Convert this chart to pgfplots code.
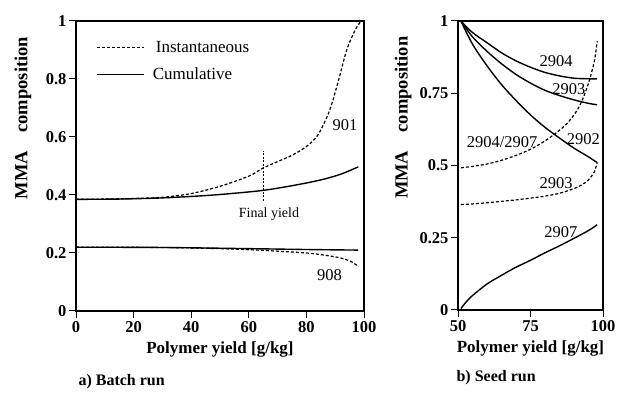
\documentclass[border=0pt]{standalone}
\usepackage{pgfplots}
\pgfplotsset{compat=1.18}
\usepackage{fontspec}
\setmainfont{Liberation Serif}
\tikzset{lab/.style={font=\fontsize{16.5}{16.5}\selectfont},
  ylab/.style={rotate=90, anchor=center, font=\fontsize{18.5}{18.5}\selectfont\bfseries}}
\begin{document}
\begin{tikzpicture}
\path[use as bounding box] (0pt,0pt) rectangle (618pt,398pt);
\pgfplotsset{
  myax/.style={
    scale only axis,
    axis line style={line width=1.1pt},
    tick align=outside,
    xtick pos=bottom, ytick pos=left,
    major tick length=7pt,
    tick style={line width=1pt,black},
    /pgf/number format/assume math mode=true,
    ticklabel style={font=\fontsize{16.5}{16.5}\selectfont\bfseries},
    yticklabel style={xshift=1pt},
    label style={font=\fontsize{17}{17}\selectfont\bfseries},
    xlabel={Polymer yield [g/kg]},
    xlabel style={yshift=-2pt},
    clip=false,
  },
  sol/.style={black, line width=1.4pt, no markers, smooth},
  das/.style={black, line width=1.2pt, no markers, smooth, dash pattern=on 3pt off 2pt},
}
% ---------- Panel a ----------
\begin{axis}[myax,
  at={(76pt,87pt)}, anchor=south west,
  width=288pt, height=290pt,
  xmin=0, xmax=100, ymin=0, ymax=1,
  xtick={0,20,40,60,80,100},
  ytick={0,0.2,0.4,0.6,0.8,1},
  yticklabels={0,0.2,0.4,0.6,0.8,1},
  legend style={draw=none, fill=none, at={(0.06,0.945)}, anchor=north west,
    font=\fontsize{17}{17}\selectfont, row sep=10pt,
    legend cell align=left},
  legend image code/.code={\draw[#1] (0pt,0pt) -- (47pt,0pt);},
]
\addplot[das] coordinates {(0,0.385) (10,0.386) (20,0.388) (30,0.392) (40,0.405) (50,0.43) (60,0.465) (65,0.493) (70,0.515) (75,0.537) (80,0.567) (84,0.607) (88,0.69) (91,0.79) (94,0.9) (97,0.97) (99,1.0)};
\addlegendentry{\hspace{9pt}Instantaneous}
\addplot[sol] coordinates {(0,0.385) (15,0.386) (30,0.39) (45,0.398) (55,0.406) (65,0.416) (75,0.432) (85,0.452) (92,0.472) (98,0.497)};
\addlegendentry{\hspace{6pt}Cumulative}
\addplot[sol, forget plot] coordinates {(0,0.22) (30,0.219) (60,0.215) (80,0.212) (98,0.21)};
\addplot[das, forget plot] coordinates {(0,0.22) (30,0.219) (50,0.215) (65,0.209) (80,0.2) (88,0.19) (93,0.18) (96,0.168) (98,0.153)};
\addplot[black, line width=1.2pt, dash pattern=on 2pt off 1.5pt, forget plot] coordinates {(65,0.38) (65,0.55)};
\node[font=\fontsize{14}{14}\selectfont, anchor=center] at (axis cs:67,0.334) {Final yield};
\node[lab] at (axis cs:93.4,0.64) {901};
\node[lab] at (axis cs:88,0.125) {908};
\node[ylab] at (axis description cs:-0.184,0.665) {MMA\hspace{1em}composition};
\end{axis}
% ---------- Panel b ----------
\begin{axis}[myax,
  at={(458pt,88pt)}, anchor=south west,
  width=145pt, height=289pt,
  xmin=50, xmax=100, ymin=0, ymax=1,
  xtick={50,75,100},
  ytick={0,0.25,0.5,0.75,1},
  yticklabels={0,0.25,0.5,0.75,1},
]
\addplot[sol] coordinates {(51,1.0) (55,0.96) (60,0.925) (65,0.89) (70,0.862) (75,0.84) (80,0.822) (85,0.81) (90,0.802) (95,0.8) (98,0.8)};
\addplot[sol] coordinates {(51,1.0) (55,0.945) (60,0.895) (65,0.852) (70,0.815) (75,0.785) (80,0.76) (85,0.742) (90,0.727) (95,0.715) (98,0.71)};
\addplot[sol] coordinates {(51,1.0) (55,0.92) (60,0.845) (65,0.78) (70,0.725) (75,0.675) (80,0.632) (85,0.595) (90,0.56) (95,0.53) (98,0.51)};
\addplot[das] coordinates {(51,0.492) (55,0.497) (60,0.505) (65,0.518) (70,0.535) (75,0.556) (80,0.585) (85,0.622) (88,0.65) (91,0.69) (93,0.73) (95,0.785) (97,0.86) (98,0.93)};
\addplot[das] coordinates {(51,0.365) (55,0.367) (60,0.371) (65,0.376) (70,0.381) (75,0.387) (80,0.394) (85,0.404) (90,0.42) (93,0.435) (95,0.45) (97,0.478) (98,0.51)};
\addplot[sol] coordinates {(51,0.005) (53,0.03) (55,0.05) (60,0.09) (65,0.12) (70,0.148) (75,0.172) (80,0.198) (85,0.222) (90,0.248) (95,0.275) (98,0.295)};
\node[lab] at (axis cs:83.8,0.86) {2904};
\node[lab] at (axis cs:88.2,0.765) {2903};
\node[lab] at (axis cs:93.2,0.593) {2902};
\node[lab] at (axis cs:65.2,0.58) {2904/2907};
\node[lab] at (axis cs:83.8,0.44) {2903};
\node[lab] at (axis cs:85.5,0.27) {2907};
\node[ylab] at (axis description cs:-0.379,0.665) {MMA\hspace{1em}composition};
\end{axis}
\node[font=\fontsize{16}{16}\selectfont\bfseries, anchor=west] at (75pt,16pt) {a) Batch run};
\node[font=\fontsize{16}{16}\selectfont\bfseries, anchor=west] at (453pt,20pt) {b) Seed run};
\end{tikzpicture}
\end{document}
